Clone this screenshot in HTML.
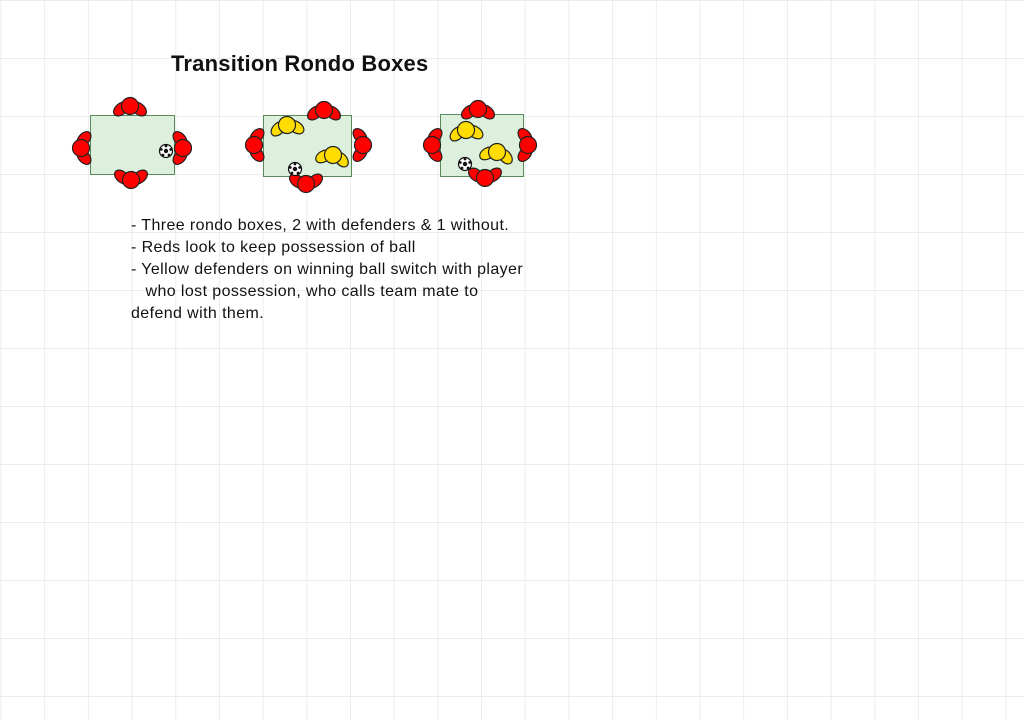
<!DOCTYPE html>
<html><head><meta charset="utf-8"><style>
html,body{margin:0;padding:0;}
body{width:1024px;height:720px;position:relative;overflow:hidden;background:#fff;
background-image:linear-gradient(to right,#ececec 1px,transparent 1px),linear-gradient(to bottom,#ececec 1px,transparent 1px);
background-size:43.7px 58px;background-position:0.5px 0px;}
.t{position:absolute;font-family:"Liberation Sans",sans-serif;color:#111;white-space:nowrap;}
</style></head><body>
<svg width="1024" height="720" style="position:absolute;left:0;top:0">
<defs>
<g id="p">
<ellipse cx="-9" cy="3" rx="8.5" ry="5.5" transform="rotate(-40 -9 3)" stroke="#222" stroke-width="1.2"/>
<ellipse cx="9" cy="3" rx="8.5" ry="5.5" transform="rotate(40 9 3)" stroke="#222" stroke-width="1.2"/>
<circle cx="0" cy="0" r="8.5" stroke="#222" stroke-width="1.2"/>
</g>
<g id="ball">
<circle r="6.5" fill="#fff" stroke="#111" stroke-width="1.2"/>
<circle r="2.2" fill="#111"/>
<circle cx="0" cy="-5" r="1.4" fill="#111"/><circle cx="4.7" cy="-1.5" r="1.4" fill="#111"/>
<circle cx="3" cy="4" r="1.4" fill="#111"/><circle cx="-3" cy="4" r="1.4" fill="#111"/><circle cx="-4.7" cy="-1.5" r="1.4" fill="#111"/>
</g>
</defs>
<g fill="#ddf0dd" stroke="#5a8a5a" stroke-width="1">
<rect x="90.5" y="115.5" width="84" height="59"/>
<rect x="263.5" y="115.5" width="88" height="61"/>
<rect x="440.5" y="114.5" width="83" height="62"/>
</g>
<g fill="#ff0000">
<use href="#p" transform="translate(130,106)"/>
<use href="#p" transform="translate(131,180) rotate(180)"/>
<use href="#p" transform="translate(81,148) rotate(-90)"/>
<use href="#p" transform="translate(183,148) rotate(90)"/>
<use href="#p" transform="translate(324,110)"/>
<use href="#p" transform="translate(306,184) rotate(180)"/>
<use href="#p" transform="translate(254,145) rotate(-90)"/>
<use href="#p" transform="translate(363,145) rotate(90)"/>
<use href="#p" transform="translate(478,109)"/>
<use href="#p" transform="translate(485,178) rotate(180)"/>
<use href="#p" transform="translate(432,145) rotate(-90)"/>
<use href="#p" transform="translate(528,145) rotate(90)"/>
</g>
<g fill="#ffdd00">
<use href="#p" transform="translate(287,125) rotate(-5)"/>
<use href="#p" transform="translate(333,155) rotate(10)"/>
<use href="#p" transform="translate(466,130) rotate(-5)"/>
<use href="#p" transform="translate(497,152) rotate(10)"/>
</g>
<use href="#ball" transform="translate(166,151)"/>
<use href="#ball" transform="translate(295,169)"/>
<use href="#ball" transform="translate(465,164)"/>
</svg>
<div class="t" style="left:171px;top:51px;font-size:22px;font-weight:bold;letter-spacing:0.2px;">Transition Rondo Boxes</div>
<div class="t" style="left:131px;top:215px;font-size:16px;line-height:22px;letter-spacing:0.4px;">- Three rondo boxes, 2 with defenders &amp; 1 without.<br>- Reds look to keep possession of ball<br>- Yellow defenders on winning ball switch with player<br>&nbsp;&nbsp;&nbsp;who lost possession, who calls team mate to<br>defend with them.</div>
</body></html>
